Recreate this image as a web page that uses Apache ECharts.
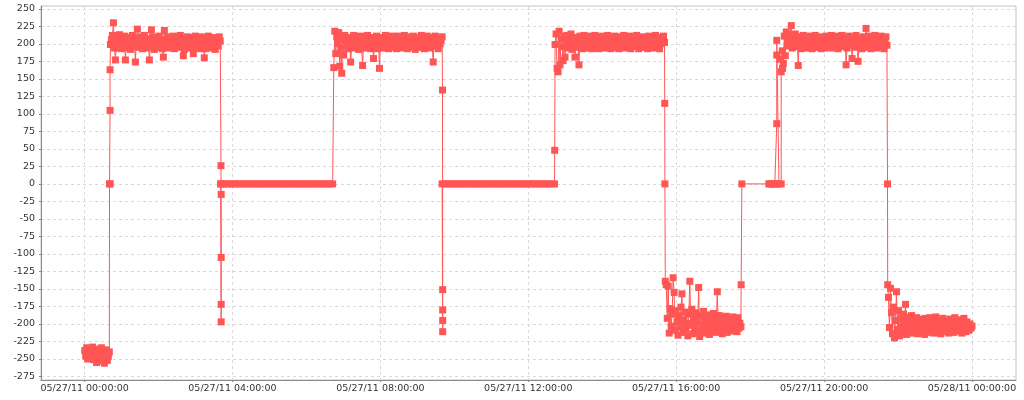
<!DOCTYPE html>
<html><head><meta charset="utf-8">
<script src="https://cdn.jsdelivr.net/npm/echarts@6/dist/echarts.min.js"></script>
<style>html,body{margin:0;padding:0;background:#fff}#c{width:1024px;height:400px}</style>
</head><body><div id="c"></div>
<script>
// ---- data (times in hours relative to 05/27/11 00:00:00) ----
const X_RANGE_HOURS = [-1.178, 25.19];
const X_TICK_HOURS = [0, 4, 8, 12, 16, 20, 24];
const Y_TICKS = [-275,-250,-225,-200,-175,-150,-125,-100,-75,-50,-25,0,25,50,75,100,125,150,175,200,225,250];

const LOW0_SPAN = [0.005, 0.67];
const LOW0 = [-238,-246,-234,-250,-241,-236,-248,-243,-233,-251,-245,-238,-255,-242,-236,-253,-247,-234,-250,-240,-256,-244,-237,-252,-246,-240];
const RISE1 = [[0.675,0],[0.695,0],[0.69,105],[0.69,163]];
const HIGH_A_SPAN = [0.70, 3.67];
const HIGH_A = [199,206,212,230,194,177,202,209,196,213,
 201,193,207,198,211,177,204,195,209,200,
 192,206,212,197,203,174,208,221,195,201,
 210,198,193,205,212,200,194,207,202,177,
 196,220,210,203,192,199,208,195,205,211,
 197,202,193,181,219,206,199,210,194,203,
 208,196,201,211,193,205,199,209,195,202,
 212,197,204,183,192,207,200,210,196,203,
 194,209,199,186,205,211,195,202,208,193,
 200,210,197,204,180,193,207,201,211,196,
 203,194,209,199,205,192,208,201,197,210,204];
const DROP1 = [[3.69,26],[3.69,0],[3.695,-15],[3.695,-105],[3.695,-172],[3.695,-197]];
const ZERO_A_SPAN = [3.68, 6.71];
const ZERO_A = [0,0,0,0,0,0,0,0,0,0,0,0,0,0,0,0,0,0,0,0,0,0,0,0,0,0,0,0,0,0,0,0,0,0,0,0,0,0];
const HIGH_B_SPAN = [6.74, 9.67];
const HIGH_B = [166,218,186,210,201,216,168,195,158,206,
 184,212,199,204,193,209,201,174,196,207,
 212,194,203,199,209,192,205,211,197,169,
 202,208,194,200,212,196,205,193,209,201,
 179,197,206,211,193,203,165,209,198,194,
 207,201,212,196,204,193,209,199,205,211,
 195,202,208,193,200,211,197,205,194,209,
 201,212,196,203,193,207,199,210,195,204,
 211,198,192,206,202,209,195,200,212,197,
 204,193,208,201,211,196,203,194,209,200,
 174,206,211,197,202,193,208,200,205,210];
const DROP2 = [[9.68,134],[9.685,-151],[9.685,-180],[9.685,-195],[9.685,-211]];
const ZERO_B_SPAN = [9.67, 12.71];
const ZERO_B = [0,0,0,0,0,0,0,0,0,0,0,0,0,0,0,0,0,0,0,0,0,0,0,0,0,0,0,0,0,0,0,0,0,0,0,0,0,0];
const RISE3 = [[12.715,48]];
const HIGH_C_SPAN = [12.725, 15.685];
const HIGH_C = [199,214,165,160,218,170,207,196,176,211,
 181,203,212,194,208,199,214,192,205,201,
 181,209,195,203,170,211,198,206,193,212,
 200,205,194,209,197,211,202,193,207,199,
 212,195,204,209,193,200,206,211,196,203,
 194,208,201,212,197,205,193,209,200,204,
 211,195,202,207,193,210,199,205,196,212,
 201,194,208,203,197,211,193,206,200,209,
 196,204,212,199,193,207,202,210,195,205,
 208,197,201,193,211,204,198,209,194,206,
 201,212,196,203,209,193,207,200,205,211,202];
const DROP3 = [[15.69,115],[15.695,0]];
const LOW_D_SPAN = [15.705, 17.75];
const LOW_D = [-139,-144,-192,-146,-213,-178,-203,-186,-134,-155,
 -209,-181,-197,-216,-188,-204,-176,-157,-212,-194,
 -183,-207,-199,-217,-186,-139,-202,-179,-214,-192,
 -205,-184,-211,-196,-148,-218,-189,-201,-208,-182,
 -213,-195,-187,-206,-199,-215,-190,-203,-210,-185,
 -197,-212,-192,-154,-204,-188,-209,-196,-214,-191,
 -201,-207,-189,-212,-197,-205,-193,-210,-199,-190,
 -208,-202,-195,-211,-191,-206,-199,-204];
const RISE4 = [[17.757,-144],[17.776,0],[18.505,0],[18.546,0],[18.586,0],[18.627,0],[18.667,0],[18.72,0],[18.72,86],[18.72,184],[18.72,205],[18.78,0],[18.84,0],[18.84,160],[18.876,165],[18.81,178]];
const HIGH_D_SPAN = [18.87, 21.70];
const HIGH_D = [190,172,211,183,217,197,205,199,213,226,
 194,208,202,214,196,206,169,210,200,193,
 207,212,197,203,194,209,201,211,196,205,
 193,208,200,212,195,204,209,197,202,193,
 210,199,206,194,211,201,196,208,203,212,
 194,200,207,197,211,203,193,209,199,205,
 212,196,202,208,170,194,204,211,198,206,
 179,201,209,195,212,203,175,197,207,200,
 193,210,204,198,222,206,195,211,201,193,
 208,203,197,212,200,194,209,205,196,211,
 201,207,193,204,210,198];
const DROP4 = [[21.715,0],[21.72,-144]];
const LOW_E_SPAN = [21.74, 24.0];
const LOW_E = [-162,-205,-149,-184,-214,-176,-220,-195,-154,-208,
 -181,-217,-192,-203,-212,-186,-199,-172,-215,-190,
 -206,-197,-213,-188,-202,-210,-194,-207,-191,-214,
 -199,-204,-211,-193,-208,-200,-215,-192,-205,-197,
 -212,-191,-203,-209,-196,-213,-201,-190,-207,-211,
 -195,-204,-214,-199,-192,-208,-202,-211,-196,-205,
 -213,-193,-200,-209,-197,-212,-191,-206,-203,-210,
 -194,-208,-199,-213,-201,-192,-207,-211,-197,-204,
 -209,-200,-206,-203];

// ---- build ----
const BASE = new Date(2011, 4, 27, 0, 0, 0).getTime();
const HOUR = 3600000;
function seg(span, vals) {
  const n = vals.length;
  return vals.map((v, i) => [BASE + (span[0] + (span[1] - span[0]) * i / (n - 1)) * HOUR, v]);
}
function pts(arr) { return arr.map(p => [BASE + p[0] * HOUR, p[1]]); }
const data = [].concat(
  seg(LOW0_SPAN, LOW0), pts(RISE1), seg(HIGH_A_SPAN, HIGH_A), pts(DROP1),
  seg(ZERO_A_SPAN, ZERO_A), seg(HIGH_B_SPAN, HIGH_B), pts(DROP2),
  seg(ZERO_B_SPAN, ZERO_B), pts(RISE3), seg(HIGH_C_SPAN, HIGH_C), pts(DROP3),
  seg(LOW_D_SPAN, LOW_D), pts(RISE4), seg(HIGH_D_SPAN, HIGH_D), pts(DROP4),
  seg(LOW_E_SPAN, LOW_E)
);
function p2(n) { return String(n).padStart(2, '0'); }
function fmt(t) {
  const d = new Date(t);
  return p2(d.getMonth() + 1) + '/' + p2(d.getDate()) + '/' + p2(d.getFullYear() % 100) + ' ' +
    p2(d.getHours()) + ':' + p2(d.getMinutes()) + ':' + p2(d.getSeconds());
}
const xTicks = X_TICK_HOURS.map(h => BASE + h * HOUR);
const FONT = 'DejaVu Sans';
const RED = '#ff5555';
const chart = echarts.init(document.getElementById('c'), null, { renderer: 'canvas' });
chart.setOption({
  animation: false,
  backgroundColor: '#ffffff',
  grid: { left: 41, right: 8, top: 6, bottom: 20, show: true, borderColor: '#c4c4c4', borderWidth: 1, backgroundColor: '#ffffff', outerBoundsMode: 'none', containLabel: false },
  xAxis: {
    type: 'value',
    min: BASE + X_RANGE_HOURS[0] * HOUR,
    max: BASE + X_RANGE_HOURS[1] * HOUR,
    scale: true,
    axisLine: { show: true, onZero: false, lineStyle: { color: '#8a8a8a', width: 1 } },
    axisTick: { show: true, length: 2, customValues: xTicks, lineStyle: { color: '#8a8a8a' } },
    axisLabel: { customValues: xTicks, formatter: v => fmt(v), color: '#333', fontFamily: FONT, fontSize: 9.5, margin: 4, hideOverlap: false },
    splitLine: { show: true, lineStyle: { color: '#d9d9d9', type: [3, 3], width: 1 } }
  },
  yAxis: {
    type: 'value',
    min: -280,
    max: 254,
    axisLine: { show: true, onZero: false, lineStyle: { color: '#8a8a8a', width: 1 } },
    axisTick: { show: true, length: 2, customValues: Y_TICKS, lineStyle: { color: '#8a8a8a' } },
    axisLabel: { customValues: Y_TICKS, formatter: v => String(v), color: '#333', fontFamily: FONT, fontSize: 9.5, margin: 6 },
    splitLine: { show: true, lineStyle: { color: '#d9d9d9', type: [3, 3], width: 1 } }
  },
  series: [{
    type: 'line',
    data: data,
    showSymbol: false,
    symbol: 'none',
    clip: true,
    z: 2,
    lineStyle: { color: RED, width: 1 },
    itemStyle: { color: RED },
    emphasis: { disabled: true }
  }, {
    type: 'scatter',
    data: data,
    symbol: 'rect',
    symbolSize: 7,
    large: false,
    clip: true,
    z: 3,
    itemStyle: { color: RED, borderWidth: 0, opacity: 1 },
    emphasis: { disabled: true }
  }]
});
</script></body></html>
